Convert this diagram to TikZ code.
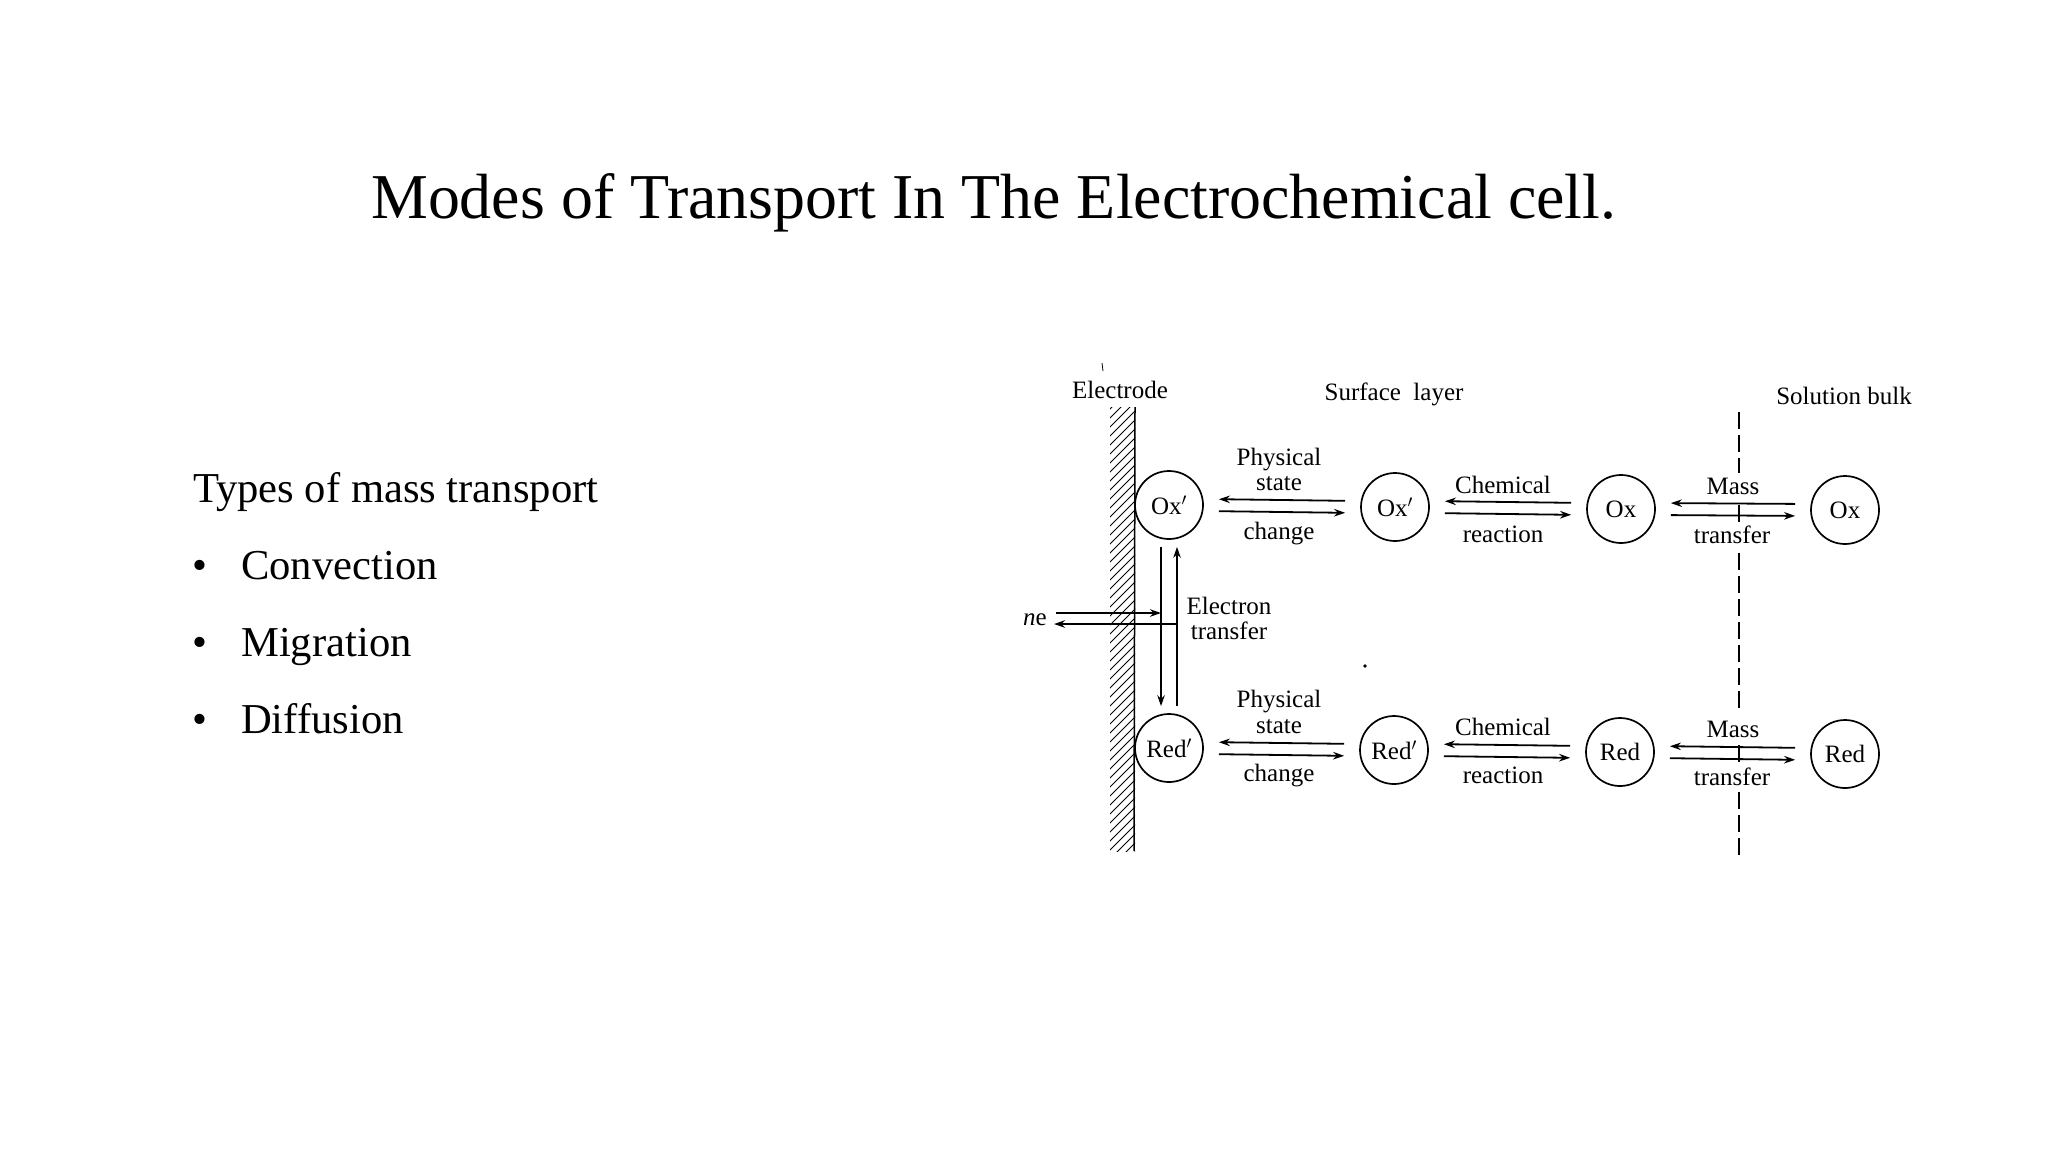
\documentclass[tikz,border=0pt]{standalone}
\usepackage{fontspec}
\setmainfont{Liberation Serif}
\usetikzlibrary{arrows.meta}

\tikzset{
    titletext/.style={anchor=base west, inner sep=0, font=\fontsize{63.9}{70}\selectfont},
    bodytext/.style={anchor=base west, inner sep=0, font=\fontsize{42.6}{48}\selectfont},
    figtext/.style={anchor=base, inner sep=0, font=\fontsize{25}{28}\selectfont},
    species/.style={circle, draw, line width=1.7pt, minimum size=68pt, inner sep=0, font=\fontsize{25}{28}\selectfont},
    arr/.style={line width=1.8pt, -{Stealth[length=11pt,width=7.5pt]}},
    exchange/.style={arr, shorten >=15pt, shorten <=15pt},
}

\begin{document}
\begin{tikzpicture}[x=1pt, y=-1pt]
    \useasboundingbox (0,0) rectangle (2048,1152);

    \node[titletext] (heading) at (371,218) {Modes of Transport In The Electrochemical cell.};

    \node[bodytext] (types) at (193,502) {Types of mass transport};
    \node[bodytext] (bulleta) at (192,579) {•};
    \node[bodytext] (bulletb) at (192,656) {•};
    \node[bodytext] (bulletc) at (192,733) {•};
    \node[bodytext] (convection) at (241,579) {Convection};
    \node[bodytext] (migration) at (241,656) {Migration};
    \node[bodytext] (diffusion) at (241,733) {Diffusion};

    % electrode wall
    \begin{scope}
        \clip (1110,407) rectangle (1135,851);
        \foreach \y in {400,409,...,900}
            \draw[line width=1pt] (1105,\y+5)--(1140,\y-30);
    \end{scope}
    \draw[line width=1.5pt] (1135,407)--(1134,851);

    % boundary of the bulk
    \foreach \ya/\yb in {412/473,553/713,792/857}
        \draw[line width=1.6pt, dash pattern=on 17pt off 6pt] (1739,\ya)--(1739,\yb);
    \draw[line width=1.6pt] (1739,505)--(1739,522);
    \draw[line width=1.6pt] (1739,745)--(1739,762);

    \node[species] (oxa) at (1169,505) {Ox$'$};
    \node[species] (oxb) at (1395,507) {Ox$'$};
    \node[species] (oxc) at (1621,509) {Ox};
    \node[species] (oxd) at (1845,510) {Ox};
    \node[species] (reda) at (1169,748) {Red$'$};
    \node[species] (redb) at (1394,750) {Red$'$};
    \node[species] (redc) at (1620,752) {Red};
    \node[species] (redd) at (1845,754) {Red};

    \foreach \a/\b in {oxa/oxb,oxb/oxc,oxc/oxd,reda/redb,redb/redc,redc/redd}{
        \draw[exchange] ([yshift=6pt]\b.west)--([yshift=6pt]\a.east);
        \draw[exchange] ([yshift=-6pt]\a.east)--([yshift=-6pt]\b.west);
    }

    % electron transfer
    \coordinate (etdown) at ([xshift=-8pt]oxa.south);
    \coordinate (etup) at ([xshift=8pt]oxa.south);
    \coordinate (nein) at (1056,613);
    \coordinate (neout) at (1054,624);
    \draw[arr, shorten <=7pt, shorten >=7pt] (etdown)--(etdown |- reda.north);
    \draw[arr, shorten <=7pt, shorten >=7pt] (etup |- reda.north)--(etup);
    \draw[arr] (nein)--(nein -| etdown);
    \draw[arr] (neout -| etup)--(neout);

    \node[figtext] (electrode) at (1120,398) {Electrode};
    \node[figtext] (surface) at (1394,400) {Surface\ \ layer};
    \node[figtext] (bulk) at (1844,404) {Solution bulk};
    \node[figtext] (ne) at (1035,625) {\textit{n}e};
    \node[figtext] (electron) at (1229,614) {Electron};
    \node[figtext] (transfer) at (1229,639) {transfer};

    \foreach \n/\x/\y/\t in {pa/1279/465/Physical,pb/1279/490/state,pc/1279/539/change,
        qa/1503/493/Chemical,qb/1503/542/reaction,
        ra/1733/494/Mass,rb/1732/543/transfer,
        sa/1279/707/Physical,sb/1279/733/state,sc/1279/781/change,
        ta/1503/735/Chemical,tb/1503/783/reaction,
        ua/1733/737/Mass,ub/1732/785/transfer}
        \node[figtext] (\n) at (\x,\y) {\t};

    % specks of the scan
    \draw[line width=.8pt] (1102,363)--(1103,371);
    \fill (1365,666) circle (1.8pt);
\end{tikzpicture}
\end{document}
